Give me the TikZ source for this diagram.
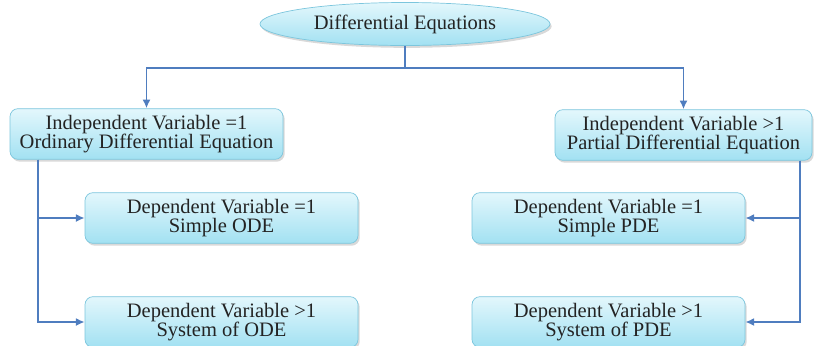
\documentclass[tikz,border=0pt]{standalone}
\usepackage{fontspec}
\setmainfont{Liberation Serif}
\usetikzlibrary{arrows.meta,positioning,calc,shapes.geometric,shadows}
\definecolor{Wire}{HTML}{4F7DBF}
\definecolor{Rim}{HTML}{7CC6DD}
\definecolor{SkyTop}{HTML}{E3F7FC}
\definecolor{SkyLow}{HTML}{A2E1F2}
\definecolor{Ink}{HTML}{232323}
\tikzset{
  topic/.style={ellipse,draw=Rim,line width=.6pt,top color=SkyTop,bottom color=SkyLow,minimum width=8.7cm,minimum height=1.29cm,inner sep=0pt,drop shadow={opacity=.3,shadow xshift=.05cm,shadow yshift=-.07cm}},
  kind/.style={rectangle,rounded corners=.24cm,draw=Rim,line width=.6pt,top color=SkyTop,bottom color=SkyLow,align=center,minimum width=8.19cm,minimum height=1.52cm,inner sep=0pt,drop shadow={opacity=.3,shadow xshift=.05cm,shadow yshift=-.07cm}},
  link/.style={draw=Wire,line width=1.5pt},
  flow/.style={link,-{Latex[length=2.6mm,width=2.4mm]}}
}

\begin{document}
\begin{tikzpicture}[font=\fontsize{17.5}{16.5}\selectfont,text=Ink]
      \useasboundingbox (0,0) rectangle (24.57,-10.35);
      \node[topic] (de) at (12.15,-.72) {Differential Equations};
      \node[kind] (ode) at (4.395,-4.02) {Independent Variable =1\\Ordinary Differential Equation};
      \node[kind,minimum width=7.71cm] (pde) at (20.505,-4.05) {Independent Variable \textgreater1\\Partial Differential Equation};

      \node[kind] (sode) at (6.645,-6.54) {Dependent Variable =1\\Simple ODE};
      \node[kind] (sysode) at (6.645,-9.66) {Dependent Variable \textgreater1\\System of ODE};
      \node[kind] (spde) at (18.255,-6.54) {Dependent Variable =1\\Simple PDE};
      \node[kind] (syspde) at (18.255,-9.66) {Dependent Variable \textgreater1\\System of PDE};

      % trunk
      \draw[link] (de.south) -- ++(0,-.66) coordinate (hub);
      \draw[flow] (hub) -| (ode.north);
      \draw[flow] (hub) -| (pde.north);

      % left branch
      \coordinate (lbus) at (ode.south west -| 1.14,0);
      \draw[flow] (lbus) |- (sode.west);
      \draw[flow] (lbus) |- (sysode.west);

      % right branch
      \coordinate (rbus) at (pde.south east -| 24.0,0);
      \draw[flow] (rbus) |- (spde.east);
      \draw[flow] (rbus) |- (syspde.east);
    \end{tikzpicture}
\end{document}
